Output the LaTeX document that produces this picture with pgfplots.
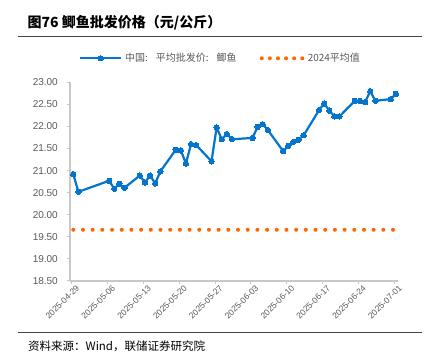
\documentclass[border=0pt]{standalone}
\usepackage{pgfplots}
\pgfplotsset{compat=1.18}
\usepackage{fontspec}
\setmainfont{Liberation Sans}
\newfontfamily\cjk{Noto Sans CJK SC}
\definecolor{wblue}{RGB}{4,116,205}
\definecolor{worange}{RGB}{255,102,0}
\definecolor{axgrey}{RGB}{200,200,200}
\definecolor{tgrey}{RGB}{89,89,89}
\definecolor{rulegrey}{RGB}{70,70,70}
\pgfplotsset{
  bluelegend/.style={legend image code/.code={\draw[mark repeat=2, mark phase=2, ##1] plot coordinates {(0pt,0pt) (20.5pt,0pt) (41pt,0pt)};}},
  orangelegend/.style={legend image code/.code={\draw[worange, line width=4pt, line cap=round, dash pattern=on 0pt off 8.1pt] (0pt,0pt) -- (41pt,0pt);}},
}
\pgfplotstableread{
d p
0 20.92
1 20.52
7 20.77
8 20.59
9 20.70
10 20.61
13 20.89
14 20.73
15 20.89
16 20.71
17 20.98
20 21.47
21 21.46
22 21.16
23 21.60
24 21.58
27 21.21
28 21.98
29 21.71
30 21.83
31 21.71
35 21.74
36 21.99
37 22.05
38 21.92
41 21.44
42 21.56
43 21.65
44 21.70
45 21.80
48 22.37
49 22.52
50 22.36
51 22.23
52 22.23
55 22.58
56 22.58
57 22.55
58 22.80
59 22.58
62 22.62
63 22.74
}\pricetable
\pgfplotstableread{
d p
0 19.66
63 19.66
}\avgtable
\begin{document}
\begin{tikzpicture}
\path[use as bounding box] (0,0) rectangle (439pt,-352pt);
\node[anchor=west, inner sep=0pt, font=\cjk\bfseries\fontsize{14}{16}\selectfont] at (27.5pt,-23pt) {图76 鲫鱼批发价格（元/公斤）};
\draw[rulegrey, line width=1pt] (18pt,-37pt) -- (422pt,-37pt);
\draw[rulegrey, line width=1pt] (18pt,-332.7pt) -- (422pt,-332.7pt);
\node[anchor=west, inner sep=0pt, font=\cjk\fontsize{11.5}{13}\selectfont] at (28pt,-346pt) {资料来源：Wind，联储证券研究院};
\begin{axis}[
  at={(70pt,-281pt)}, anchor=south west,
  scale only axis, width=328.3pt, height=198.7pt,
  xmin=-0.64, xmax=63.48, ymin=18.5, ymax=23,
  axis x line*=bottom, axis y line*=left,
  axis line style={axgrey, line width=1.2pt, -},
  tick style={axgrey, line width=1pt},
  tick align=outside, major tick length=3pt,
  ytick={18.5,19,...,23},
  yticklabels={18.50,19.00,19.50,20.00,20.50,21.00,21.50,22.00,22.50,23.00},
  xtick={-0.3,6.7,13.7,20.7,27.7,34.7,41.7,48.7,55.7,62.7},
  xticklabels={2025-04-29,2025-05-06,2025-05-13,2025-05-20,2025-05-27,2025-06-03,2025-06-10,2025-06-17,2025-06-24,2025-07-01},
  yticklabel style={font=\fontsize{10}{12}\selectfont, text=tgrey, inner sep=0pt, xshift=-9pt},
  xticklabel style={font=\fontsize{8.5}{10}\selectfont, text=tgrey, inner sep=0pt, rotate=45, anchor=north east, xshift=2.5pt, yshift=-3pt},
  legend columns=2,
  legend style={at={(axis description cs:0.0274,1.1208)}, anchor=west, draw=none, fill=none, inner sep=0pt, outer sep=0pt,
    font=\cjk\fontsize{10}{12}\selectfont, text=tgrey, nodes={inner sep=3pt},
    /tikz/every even column/.append style={column sep=20pt}},
  clip=false,
]
\addplot[wblue, line width=2.2pt, mark=*, mark size=2.7pt, mark options={solid, fill=wblue, draw=wblue, line width=0pt}, bluelegend]
  table[x=d, y=p] {\pricetable};
\addlegendentry{中国:\kern0.8em 平均批发价:\kern0.8em 鲫鱼}
\addplot[worange, line width=4pt, line cap=round, dash pattern=on 0pt off 9.69pt, orangelegend]
  table[x=d, y=p] {\avgtable};
\addlegendentry{2024平均值}
\end{axis}
\end{tikzpicture}
\end{document}
